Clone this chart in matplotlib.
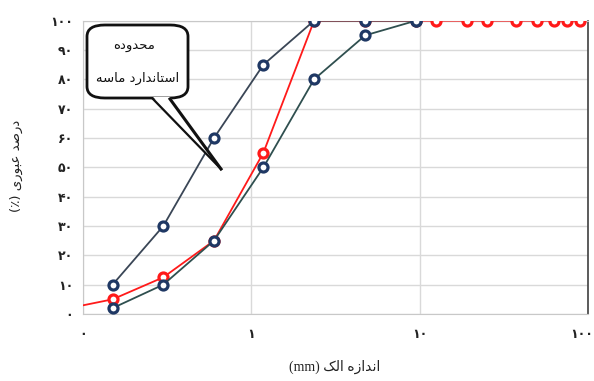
import numpy as np
import matplotlib
matplotlib.use('Agg')
import matplotlib.pyplot as plt
import matplotlib.transforms as mtransforms
from matplotlib.patches import FancyBboxPatch, Polygon
from matplotlib.lines import Line2D

# sieve sizes (mm) and percent passing
sieve_std = [0.15, 0.3, 0.6, 1.18, 2.36, 4.75, 9.5]
upper_lim = [10, 30, 60, 85, 100, 100, 100]
lower_lim = [2, 10, 25, 50, 80, 95, 100]

sieve_smp = [0.075, 0.15, 0.3, 0.6, 1.18, 2.36, 4.75, 9.5,
             12.5, 19, 25, 37.5, 50, 63, 75, 90]
sample = [1.5, 5, 12.5, 25, 55, 100, 100, 100,
          100, 100, 100, 100, 100, 100, 100, 100]

x_ticks = [0.1, 1, 10, 100]
x_labels = ['۰', '۱', '۱۰', '۱۰۰']
y_ticks = list(range(0, 101, 10))

# arabic presentation forms: iso, fin, ini, med (right-joining letters have two)
FORMS = {
    'ا': '\uFE8D\uFE8E', 'د': '\uFEA9\uFEAA', 'ر': '\uFEAD\uFEAE',
    'ز': '\uFEAF\uFEB0', 'و': '\uFEED\uFEEE',
    'ب': '\uFE8F\uFE90\uFE91\uFE92', 'ت': '\uFE95\uFE96\uFE97\uFE98',
    'ح': '\uFEA1\uFEA2\uFEA3\uFEA4', 'س': '\uFEB1\uFEB2\uFEB3\uFEB4',
    'ص': '\uFEB9\uFEBA\uFEBB\uFEBC', 'ع': '\uFEC9\uFECA\uFECB\uFECC',
    'ک': '\uFB8E\uFB8F\uFB90\uFB91', 'ل': '\uFEDD\uFEDE\uFEDF\uFEE0',
    'م': '\uFEE1\uFEE2\uFEE3\uFEE4', 'ن': '\uFEE5\uFEE6\uFEE7\uFEE8',
    'ه': '\uFEE9\uFEEA\uFEEB\uFEEC', 'ی': '\uFBFC\uFBFD\uFBFE\uFBFF',
}


def fa(s):
    """shape persian text and return it in visual (left to right) order"""
    out = []
    for i, c in enumerate(s):
        if c not in FORMS:
            out.append(c)
            continue
        prev = s[i - 1] if i > 0 else ''
        nxt = s[i + 1] if i + 1 < len(s) else ''
        join_prev = prev in FORMS and len(FORMS[prev]) == 4
        join_next = len(FORMS[c]) == 4 and nxt in FORMS
        f = FORMS[c]
        if join_prev and join_next:
            out.append(f[3])
        elif join_prev:
            out.append(f[1])
        elif join_next:
            out.append(f[2])
        else:
            out.append(f[0])
    return ''.join(out)[::-1]


def fa_num(v):
    return ''.join('۰۱۲۳۴۵۶۷۸۹'[int(d)] for d in str(v))


FONT = ['DejaVu Sans']
navy = '#1f3864'

fig = plt.figure(figsize=(5.94, 3.81), dpi=100)
ax = fig.add_axes([0.1397, 0.1759, 0.8502, 0.7698])

ax.plot(sieve_smp, sample, '-o', color='#ff1a1a', lw=1.3, ms=6.5,
        mfc='white', mec='#ff1a1a', mew=2.3, zorder=3)
ax.plot(sieve_std, lower_lim, '-o', color='#2f4f4f', lw=1.3, ms=6.5,
        mfc='white', mec=navy, mew=2.3, zorder=4)
ax.plot(sieve_std, upper_lim, '-o', color='#3a4656', lw=1.3, ms=6.5,
        mfc='white', mec=navy, mew=2.3, zorder=5)

ax.set_xscale('log')
ax.set_xlim(0.1, 100)
ax.set_ylim(0, 100)
ax.set_xticks(x_ticks)
ax.set_xticklabels(x_labels)
ax.minorticks_off()
ax.set_yticks(y_ticks)
ax.set_yticklabels([fa_num(v) for v in y_ticks])
ax.tick_params(length=0, labelsize=9, colors='#222222')
ax.tick_params(axis='x', pad=10)
ax.tick_params(axis='y', pad=7)
for lab in ax.get_xticklabels() + ax.get_yticklabels():
    lab.set_fontweight('bold')
    lab.set_family(FONT)
# keep the last x label inside the figure
last = ax.get_xticklabels()[-1]
last.set_transform(last.get_transform() +
                   mtransforms.ScaledTranslation(-6 / 100, 0, fig.dpi_scale_trans))

ax.grid(True, color='#d9d9d9', lw=1.0)
ax.set_axisbelow(True)
for side in ['left', 'bottom', 'top']:
    ax.spines[side].set_color('#c8c8c8')
ax.spines['right'].set_color('#404040')
ax.spines['right'].set_linewidth(1.2)

fig.text(0.5640, 0.037, '(mm) ' + fa('اندازه الک'), ha='center', va='center',
         fontsize=10, family=['Liberation Serif', 'DejaVu Sans'], color='#222222')
fig.text(0.027, 0.565, '(٪) ' + fa('درصد عبوری'), ha='center', va='center',
         rotation=90, fontsize=9.5, family=FONT, color='#222222')

# callout bubble
W, H = 594.0, 381.0
def fp(x, y):
    return (x / W, 1 - y / H)

box = FancyBboxPatch(fp(87, 98), (188 - 87) / W, (98 - 25) / H,
                     boxstyle='round,pad=0,rounding_size=0.03',
                     transform=fig.transFigure, fc='white', ec='#111111',
                     lw=2, zorder=10)
fig.patches.append(box)
tail = Polygon([fp(153, 97), fp(170, 97), fp(221, 169)], closed=True,
               transform=fig.transFigure, fc='white', ec='none', zorder=11)
fig.patches.append(tail)
for x0 in (153, 170):
    fig.lines.append(Line2D([x0 / W, 221 / W], [1 - 99 / H, 1 - 169 / H],
                            transform=fig.transFigure, color='#111111',
                            lw=1.6 if x0 == 153 else 2.2, zorder=12))
fig.text(*fp(134, 45), fa('محدوده'), ha='center', va='center', fontsize=9.5,
         family=FONT, color='#111111', zorder=13)
fig.text(*fp(138, 78), fa('استاندارد ماسه'), ha='center', va='center',
         fontsize=9.5, family=FONT, color='#111111', zorder=13)

fig.savefig('out.png', dpi=100)
